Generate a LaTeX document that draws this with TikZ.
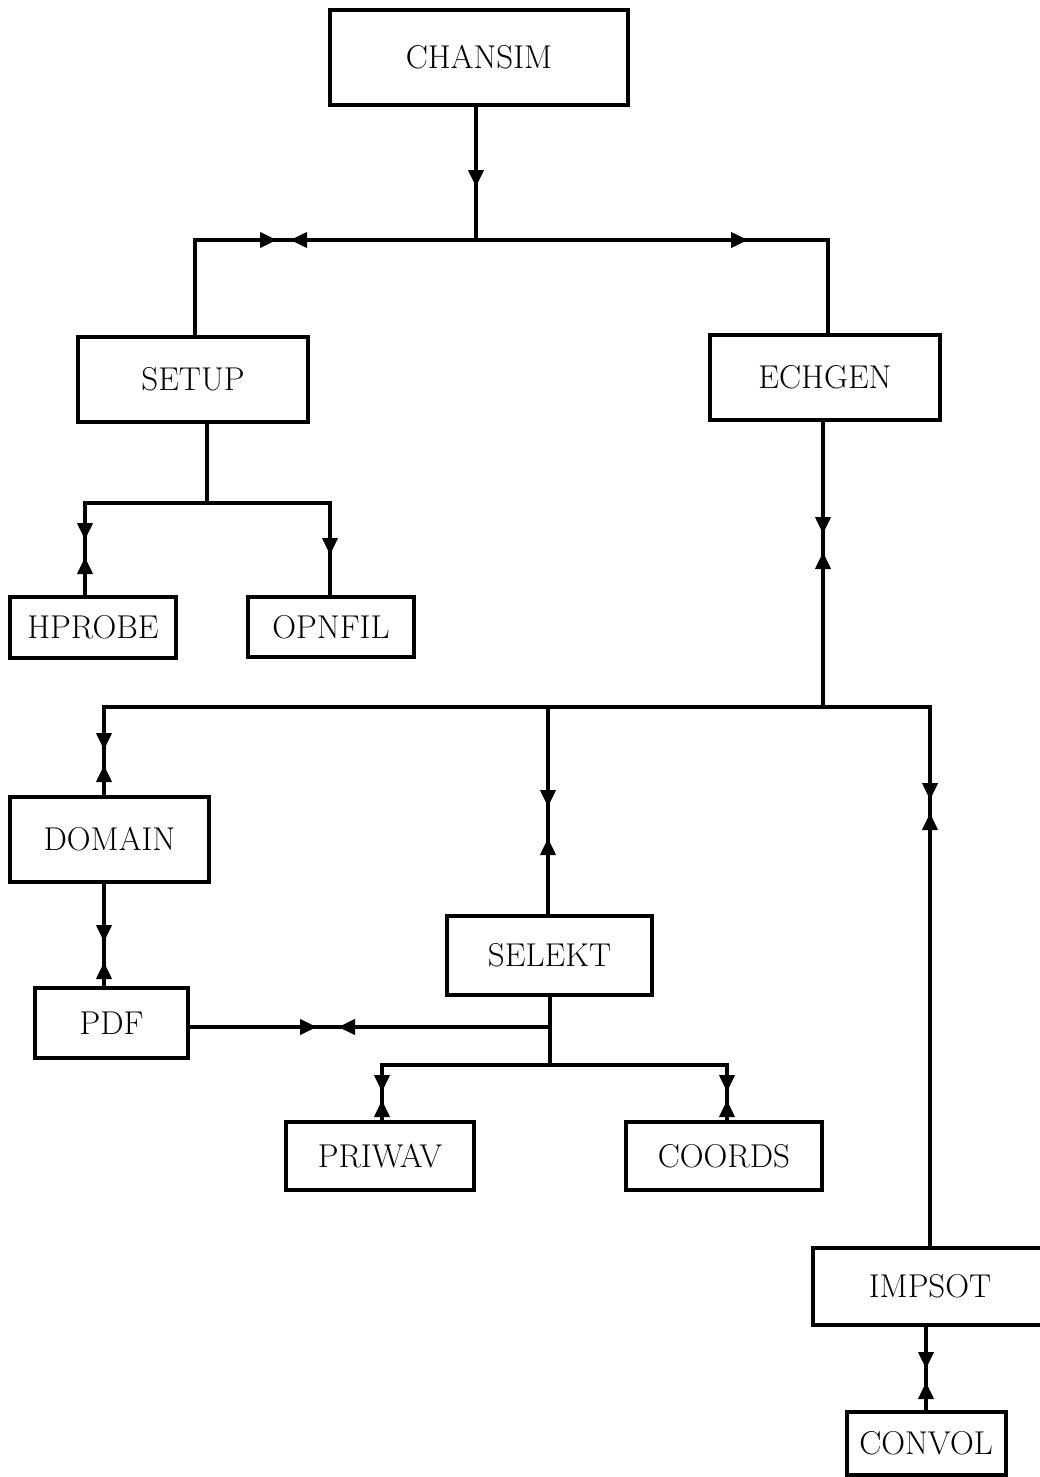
\documentclass[tikz,border=0pt]{standalone}
\usetikzlibrary{arrows.meta,decorations.markings}
\begin{document}
\begin{tikzpicture}[x=0.5pt,y=-0.5pt,
  line width=1.9pt,
  module/.style={draw,line width=2pt,inner sep=0pt,
    font=\fontsize{16.5}{19}\selectfont},
  link/.style={draw,line width=1.9pt,line cap=rect,line join=miter},
  tipshape/.tip={Triangle[length=8.5pt,width=7.5pt]},
  calls/.style={postaction={decorate,decoration={markings,
    mark=at position #1 with {\arrow{tipshape}}}}},
  returns/.style={postaction={decorate,decoration={markings,
    mark=at position #1 with {\arrowreversed{tipshape}}}}}]
\useasboundingbox (0,0) rectangle (1039,1477);

% program modules
\node[module,minimum width=149pt,minimum height=47.5pt] (chansim) at (479,57.5) {CHANSIM};
\node[module,minimum width=115pt,minimum height=42.5pt] (setup) at (193,379.5) {SETUP};
\node[module,minimum width=115pt,minimum height=42.5pt] (echgen) at (825,377.5) {ECHGEN};
\node[module,minimum width=83pt,minimum height=30.5pt] (hprobe) at (93,627.5) {HPROBE};
\node[module,minimum width=83pt,minimum height=30pt] (opnfil) at (331,627) {OPNFIL};
\node[module,minimum width=99.5pt,minimum height=42.5pt] (domain) at (109.5,839.5) {DOMAIN};
\node[module,minimum width=76.5pt,minimum height=35pt] (pdf) at (111.5,1023) {PDF};
\node[module,minimum width=102.5pt,minimum height=39.5pt] (selekt) at (549.5,955.5) {SELEKT};
\node[module,minimum width=94pt,minimum height=34pt] (priwav) at (380,1156) {PRIWAV};
\node[module,minimum width=98pt,minimum height=34pt] (coords) at (724,1156) {COORDS};
\node[module,minimum width=117pt,minimum height=38.5pt] (impsot) at (930,1286.5) {IMPSOT};
\node[module,minimum width=79.5pt,minimum height=31.5pt] (convol) at (926,1443.5) {CONVOL};

% branch points
\coordinate (j0) at (476,240);
\coordinate (jl) at (195,240);
\coordinate (jr) at (828,240);
\coordinate (js) at (207,503);
\coordinate (jsl) at (85,503);
\coordinate (jsr) at (330,503);
\coordinate (je) at (823,707);
\coordinate (jel) at (104,707);
\coordinate (jem) at (548,707);
\coordinate (jer) at (930,707);
\coordinate (jk) at (550,1027);
\coordinate (jk2) at (550,1065);
\coordinate (jkl) at (382,1065);
\coordinate (jkr) at (727,1065);

% CHANSIM calls
\path[link,calls=40pt] (j0 |- chansim.south) -- (j0);
\path[link,calls=93pt,returns=99.5pt] (j0) -- (jl) -- (jl |- setup.north);
\path[link,calls=136pt] (j0) -- (jr) -- (jr |- echgen.north);

% SETUP calls
\path[link] (js |- setup.south) -- (js);
\path[link,calls=79.5pt,returns=88pt] (js) -- (jsl) -- (jsl |- hprobe.north);
\path[link,calls=87.5pt] (js) -- (jsr) -- (jsr |- opnfil.north);

% ECHGEN calls
\path[link,calls=56pt,returns=65pt] (je |- echgen.south) -- (je);
\path[link] (jel) -- (jer);
\path[link,calls=21.5pt,returns=29pt] (jel) -- (jel |- domain.north);
\path[link,calls=50pt,returns=65.5pt] (jem) -- (jem |- selekt.north);
\path[link,calls=46.5pt,returns=53pt] (jer) -- (jer |- impsot.north);

% DOMAIN and PDF
\path[link,calls=29pt,returns=39pt] (jel |- domain.south) -- (jel |- pdf.north);
\path[link,calls=63.5pt,returns=74pt] (pdf.east |- jk) -- (jk);

% SELEKT calls
\path[link] (jk2 |- selekt.south) -- (jk2);
\path[link,calls=97.5pt,returns=101.5pt] (jk2) -- (jkl) -- (jkl |- priwav.north);
\path[link,calls=102pt,returns=106pt] (jk2) -- (jkr) -- (jkr |- coords.north);

% IMPSOT calls
\path[link,calls=21pt,returns=27.5pt] (impsot.south -| convol.north) -- (convol.north);
\end{tikzpicture}
\end{document}
